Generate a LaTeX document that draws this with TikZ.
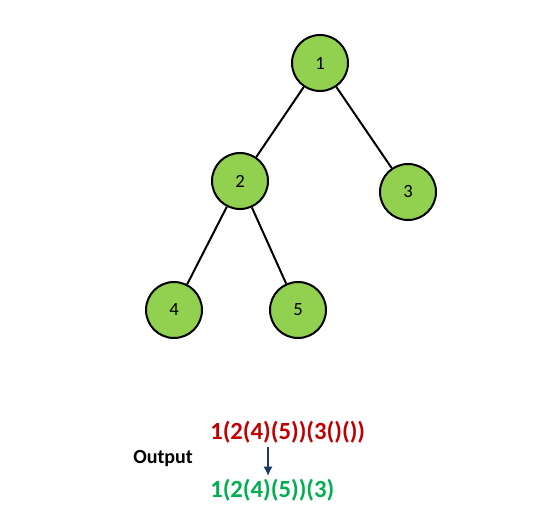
\documentclass[tikz,border=0pt]{standalone}
\usepackage{fontspec}
\setmainfont{Carlito}
\usetikzlibrary{
    arrows.meta,   % For arrow tips
    positioning    % For label positioning
}
\definecolor{leafgreen}{HTML}{92D050}
\definecolor{outred}{HTML}{C00000}
\definecolor{outgreen}{HTML}{00B050}
\definecolor{arrowblue}{HTML}{1F3864}

\begin{document}
\begin{tikzpicture}[
    x=0.75pt, y=-0.75pt, % Work in reference pixels
    >=Latex, % Set default arrow tip style
    treenode/.style={circle, draw=black, line width=1.5pt, fill=leafgreen,
        minimum size=42pt, inner sep=0pt, font=\fontsize{14}{16}\selectfont}, % Tree nodes
    edge/.style={line width=1.5pt}, % Style for tree edges
    bigtext/.style={font=\fontsize{18.5}{22}\selectfont\bfseries, inner sep=0pt}, % Output strings
    flow/.style={->, line width=2.2pt, arrowblue, >={Latex[length=7pt,width=7pt]}} % Down arrow
]

    % Canvas
    \useasboundingbox (0,0) rectangle (545,516);

    % Tree nodes
    \node[treenode] (n1) at (320,63) {1};
    \node[treenode] (n2) at (240,181) {2};
    \node[treenode] (n3) at (408,192) {3};
    \node[treenode] (n4) at (174,310) {4};
    \node[treenode] (n5) at (298,310) {5};

    % Tree edges
    \draw[edge] (n1) -- (n2);
    \draw[edge] (n1) -- (n3);
    \draw[edge] (n2) -- (n4);
    \draw[edge] (n2) -- (n5);

    % Output strings
    \node[bigtext, outred, anchor=west] (full) at (210,432) {1(2(4)(5))(3()())};
    \node[bigtext, outgreen, anchor=west] (trim) at (210,490) {1(2(4)(5))(3)};
    \node[font=\fontsize{15}{18}\selectfont\bfseries, anchor=west, inner sep=0pt] (outlbl) at (133,459) {Output};

    % Arrow between strings
    \coordinate (atop) at (268,447);
    \coordinate (abot) at (268,476);
    \draw[flow] (atop) -- (abot);

\end{tikzpicture}
\end{document}
